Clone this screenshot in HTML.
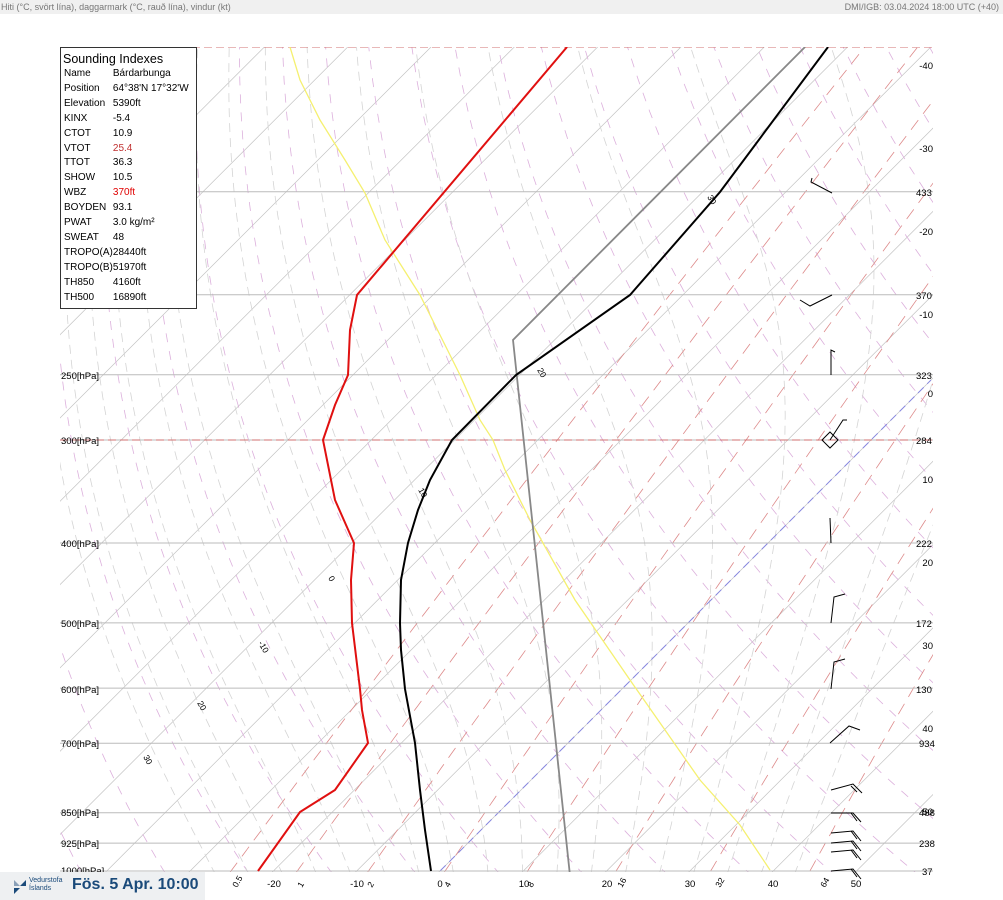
<!DOCTYPE html>
<html><head><meta charset="utf-8"><style>
body{margin:0;width:1003px;height:900px;overflow:hidden;background:#fff;font-family:"Liberation Sans",sans-serif}
#hdr{position:absolute;left:0;top:0;width:1003px;height:14px;background:#f0f0f0;font-size:9px;color:#777;line-height:14px}
#box{position:absolute;left:60px;top:47px;width:135px;height:260px;border:1px solid #333;background:#fff;font-size:10px;color:#000}
#box .t{font-size:12.5px;margin:4px 0 1px 2px}
#box table{border-collapse:collapse;margin-left:3px}
#box td{padding:0;height:14.9px;line-height:14.9px;white-space:nowrap}
#box td:first-child{width:47px}
#logo{position:absolute;left:0;top:872px;width:205px;height:28px;background:#eef0f2}
</style></head><body>
<div id="hdr"><span style="position:absolute;left:1px">Hiti (°C, svört lína), daggarmark (°C, rauð lína), vindur (kt)</span><span style="position:absolute;right:4px">DMI/IGB: 03.04.2024 18:00 UTC (+40)</span></div>
<svg id="s" width="1003" height="900" style="position:absolute;left:0;top:0">
<defs><clipPath id="c"><rect x="60" y="47" width="873" height="825"/></clipPath></defs>
<g id="bg" clip-path="url(#c)"></g>
<g id="lev"></g>
<g clip-path="url(#c)" fill="none">
<line x1="60" y1="440" x2="933" y2="440" stroke="#d07070" stroke-dasharray="8,4"/>
<line x1="60" y1="47" x2="933" y2="47" stroke="#d07070" stroke-dasharray="8,4"/>
<polyline points="290,47 300,80 320,120 345,160 365,193 385,240 420,295 440,335 460,375 480,420 493,440 505,470 530,520 575,600 630,680 700,780 740,825 770,870" stroke="#f5f070" stroke-width="1.3"/>
<polyline points="571,885 513,340 805,47" stroke="#888" stroke-width="1.8"/>
<polyline points="258,871 300,812 335,790 368,743 362,710 360,689 352,623 351,580 354,543 335,500 323,440 335,405 348,375 350,330 357,295 567,47" stroke="#e01010" stroke-width="2"/>
<polyline points="431,871 425,830 420,790 415,743 405,689 401,650 400,623 401,580 408,543 418,510 430,480 452,440 516,375 630,295 720,192 828,47" stroke="#000" stroke-width="2"/>
</g>
<g stroke="#000" fill="none" stroke-width="1">
<polyline points="831,871 853,869 861,879"/><line x1="851" y1="869" x2="857" y2="877"/>
<polyline points="831,852 853,850 861,860"/><line x1="851" y1="850" x2="857" y2="858"/>
<polyline points="831,843 853,841 861,851"/><line x1="851" y1="841" x2="857" y2="849"/>
<polyline points="831,833 853,831 861,841"/><line x1="851" y1="831" x2="857" y2="839"/>
<polyline points="831,813 853,813 861,822"/><line x1="851" y1="813" x2="857" y2="821"/>
<polyline points="831,790 853,784 862,793"/><line x1="851" y1="786" x2="857" y2="792"/>
<polyline points="830,743 849,726 860,730"/>
<polyline points="831,689 834,662 845,659"/>
<polyline points="831,623 834,597 845,594"/>
<line x1="831" y1="543" x2="830" y2="518"/>
<polyline points="831,375 831,350 835,352"/>
<polyline points="832,295 810,306 800,300"/>
<polyline points="832,193 811,182 812,178"/>
<polygon points="830,432 838,440 830,448 822,440"/><polyline points="830,440 843,420 847,420"/>
</g>
<g font-size="9.5" fill="#000">
<text x="61" y="379">250[hPa]</text><text x="61" y="444">300[hPa]</text><text x="61" y="547">400[hPa]</text>
<text x="61" y="627">500[hPa]</text><text x="61" y="693">600[hPa]</text><text x="61" y="747">700[hPa]</text>
<text x="61" y="816">850[hPa]</text><text x="61" y="847">925[hPa]</text><text x="61" y="874">1000[hPa]</text>
<g text-anchor="middle"><text x="274" y="887">-20</text><text x="357" y="887">-10</text><text x="440" y="887">0</text><text x="524" y="887">10</text><text x="607" y="887">20</text><text x="690" y="887">30</text><text x="773" y="887">40</text><text x="856" y="887">50</text></g>
<g text-anchor="end"><text x="933" y="69">-40</text><text x="933" y="152">-30</text><text x="933" y="235">-20</text><text x="933" y="318">-10</text><text x="933" y="397">0</text><text x="933" y="483">10</text><text x="933" y="566">20</text><text x="933" y="649">30</text><text x="933" y="732">40</text><text x="933" y="815">50</text></g>
<g><text x="916" y="196">433</text><text x="916" y="299">370</text><text x="916" y="379">323</text><text x="916" y="444">284</text><text x="916" y="547">222</text><text x="916" y="627">172</text><text x="916" y="693">130</text><text x="919" y="747">934</text><text x="919" y="816">488</text><text x="919" y="847">238</text><text x="922" y="875">37</text></g>
<g font-size="8.5">
<text transform="translate(237,888) rotate(-60)">0.5</text><text transform="translate(302,888) rotate(-60)">1</text><text transform="translate(372,888) rotate(-60)">2</text><text transform="translate(449,888) rotate(-60)">4</text><text transform="translate(532,888) rotate(-60)">8</text><text transform="translate(622,888) rotate(-60)">16</text><text transform="translate(720,888) rotate(-60)">32</text><text transform="translate(825,888) rotate(-60)">64</text>
<text transform="translate(328,578) rotate(60)">0</text><text transform="translate(258,643) rotate(60)">-10</text><text transform="translate(197,703) rotate(60)">20</text><text transform="translate(143,757) rotate(60)">30</text><text transform="translate(418,490) rotate(60)">10</text><text transform="translate(537,370) rotate(60)">20</text><text transform="translate(707,197) rotate(60)">30</text>
</g></g>
</svg>
<div id="box"><div class="t">Sounding Indexes</div><table>
<tr><td>Name</td><td>Bárdarbunga</td></tr><tr><td>Position</td><td>64°38'N 17°32'W</td></tr><tr><td>Elevation</td><td>5390ft</td></tr>
<tr><td>KINX</td><td>-5.4</td></tr><tr><td>CTOT</td><td>10.9</td></tr><tr><td>VTOT</td><td style="color:#c03030">25.4</td></tr>
<tr><td>TTOT</td><td>36.3</td></tr><tr><td>SHOW</td><td>10.5</td></tr><tr><td>WBZ</td><td style="color:#e00000">370ft</td></tr>
<tr><td>BOYDEN</td><td>93.1</td></tr><tr><td>PWAT</td><td>3.0 kg/m²</td></tr><tr><td>SWEAT</td><td>48</td></tr>
<tr><td>TROPO(A)</td><td>28440ft</td></tr><tr><td>TROPO(B)</td><td>51970ft</td></tr><tr><td>TH850</td><td>4160ft</td></tr><tr><td>TH500</td><td>16890ft</td></tr>
</table></div>
<div id="logo"><svg width="40" height="28" style="position:absolute;left:6px;top:0"><polygon points="8,8 14,14 8,14" fill="#8aa0b8"/><polygon points="14,14 20,8 20,14" fill="#1a4a7a"/><polygon points="8,16 14,16 8,22" fill="#1a4a7a"/></svg>
<div style="position:absolute;left:29px;top:5px;font-size:7px;color:#1a4a7a;line-height:8px;white-space:nowrap">Vedurstofa<br>Íslands</div>
<div style="position:absolute;left:72px;top:4px;font-size:16px;font-weight:bold;color:#1a4a7a;white-space:nowrap">Fös. 5 Apr. 10:00</div></div>
<script>
var NS="http://www.w3.org/2000/svg",bg=document.getElementById("bg"),lev=document.getElementById("lev");
function yP(p){return 871-358*Math.log(1000/p);}
function xT(T,y){return 440+8.33*T+(871-y);}
function pl(pts,st,da,g,w){var e=document.createElementNS(NS,"polyline");e.setAttribute("points",pts.map(function(a){return a[0].toFixed(1)+","+a[1].toFixed(1)}).join(" "));e.setAttribute("fill","none");e.setAttribute("stroke",st);e.setAttribute("stroke-width",w||"0.8");if(da)e.setAttribute("stroke-dasharray",da);(g||bg).appendChild(e);}
var ps=[];for(var p=1050;p>=95;p-=10)ps.push(p);
for(var T=-140;T<=60;T+=10){pl([[xT(T,900),900],[xT(T,40),40]],"#c4c4c4",null,null,"0.7");}
for(var th=230;th<=480;th+=10){pl(ps.map(function(p){var t=th*Math.pow(p/1000,0.286)-273.15,y=yP(p);return[xT(t,y),y]}),"#dcb0dc","9,9");}
function es(t){return 6.112*Math.exp(17.67*t/(t+243.5));}
for(var T0=-24;T0<=44;T0+=4){var t=T0,pts=[],p=1050;
 while(p>=95){var y=yP(p);pts.push([xT(t,y),y]);var TK=t+273.15,e=es(t),rs=0.622*e/(p-e);
 var d=(287*TK+2.5e6*rs)/(1004+2.5e6*2.5e6*rs*0.622/(287*TK*TK))/p;t-=d*5;p-=5;}
 pl(pts,"#d4d4d4","9,6");}
[0.5,1,2,4,8,16,32,64].forEach(function(w){pl(ps.filter(function(p){return p>=100}).map(function(p){var e=w*p/(622+w),l=Math.log(e/6.112),t=243.5*l/(17.67-l),y=yP(p);return[xT(t,y),y]}),"#dd8a8a","12,8");});
pl([[xT(0,871),871],[xT(0,380),380]],"#8888e0","8,5",null,"1");
[1000,925,850,700,600,500,400,300,250,200,150].forEach(function(p){var y=yP(p);pl([[60,y],[933,y]],"#bbb",null,lev,"1");});
</script>
</body></html>
